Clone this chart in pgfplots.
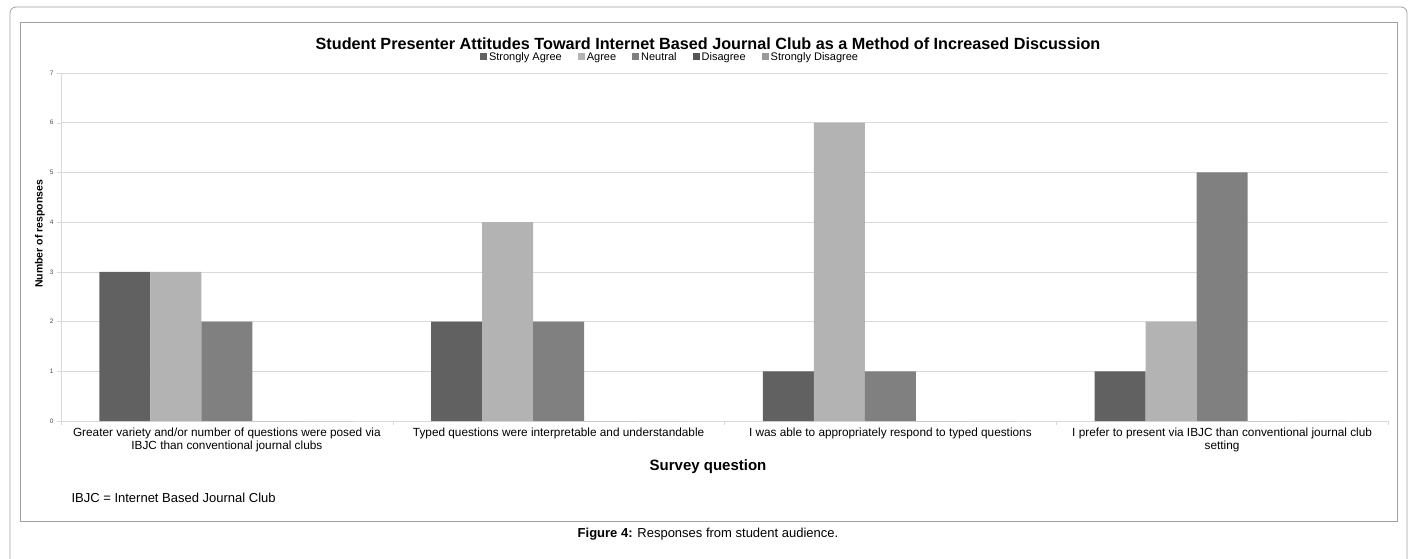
\documentclass[border=0pt]{standalone}
\usepackage{pgfplots}
\pgfplotsset{compat=1.18}
\usepackage{fontspec}
\setmainfont{Liberation Sans}
\definecolor{cSA}{HTML}{616161}
\definecolor{cA}{HTML}{B3B3B3}
\definecolor{cN}{HTML}{808080}
\definecolor{cD}{HTML}{555555}
\definecolor{cSD}{HTML}{9A9A9A}
\definecolor{gridc}{HTML}{D9D9D9}
\definecolor{framec}{HTML}{A0A0A0}
\begin{document}
\begin{tikzpicture}[x=1pt,y=1pt]
\useasboundingbox (0,0) rectangle (1416,558);
\begin{scope}
\clip (0,0) rectangle (1416,558);
\draw[framec, line width=0.8pt, rounded corners=6pt] (10,-20) rectangle (1407,551);
\end{scope}
\draw[framec, line width=0.8pt] (20,37) rectangle (1397,536);
\node[font=\fontsize{16.2}{18}\selectfont\bfseries] at (708,514) {Student Presenter Attitudes Toward Internet Based Journal Club as a Method of Increased Discussion};
\node[font=\fontsize{15}{17}\selectfont\bfseries] at (708,91) {Survey question};
\node[font=\fontsize{13}{15}\selectfont, anchor=west] at (68,60) {IBJC = Internet Based Journal Club};
\node[font=\fontsize{13}{15}\selectfont] at (708,24) {\textbf{Figure 4:} Responses from student audience.};
\node[font=\fontsize{10.5}{12}\selectfont\bfseries, rotate=90] at (40,324) {Number of responses};
\begin{axis}[
  at={(61pt,137pt)}, anchor=origin,
  scale only axis, width=1327pt, height=348pt,
  xmin=0.5, xmax=4.5, ymin=0, ymax=7,
  ybar=0pt, bar width=51pt,
  axis line style={gridc},
  axis x line*=bottom, axis y line*=left,
  ymajorgrids, grid style={gridc, line width=0.6pt},
  ytick={0,1,...,7},
  yticklabel style={font=\fontsize{6.5}{7}\selectfont, text=black!70},
  /pgf/number format/assume math mode=true,
  ytick style={gridc}, major tick length=4pt,
  tick align=outside,
  xtick={1,2,3,4},
  xticklabels={{Greater variety and/or number of questions were posed via\\IBJC than conventional journal clubs},
               {Typed questions were interpretable and understandable},
               {I was able to appropriately respond to typed questions},
               {I prefer to present via IBJC than conventional journal club\\setting}},
  xticklabel style={font=\fontsize{11.8}{13}\selectfont, align=center, yshift=1pt},
  x tick style={draw=none},
  extra x ticks={0.5,1.5,2.5,3.5,4.5},
  extra x tick labels={},
  extra x tick style={x tick style={draw=gridc}, grid=none},
  legend style={at={(0.459,1.046)}, anchor=center, draw=none, fill=none,
     legend columns=-1, font=\fontsize{11}{12}\selectfont,
     /tikz/every even column/.append style={column sep=14pt}},
  legend cell align=left,
  legend image code/.code={\fill[#1] (0pt,-3.5pt) rectangle (7pt,3.5pt);},
  clip=false,
]
\addplot[fill=cSA, draw=none] coordinates {(1,3) (2,2) (3,1) (4,1)};
\addplot[fill=cA, draw=none] coordinates {(1,3) (2,4) (3,6) (4,2)};
\addplot[fill=cN, draw=none] coordinates {(1,2) (2,2) (3,1) (4,5)};
\addplot[fill=cD, draw=none] coordinates {(1,0) (2,0) (3,0) (4,0)};
\addplot[fill=cSD, draw=none] coordinates {(1,0) (2,0) (3,0) (4,0)};
\legend{Strongly Agree, Agree, Neutral, Disagree, Strongly Disagree}
\end{axis}
\end{tikzpicture}
\end{document}
